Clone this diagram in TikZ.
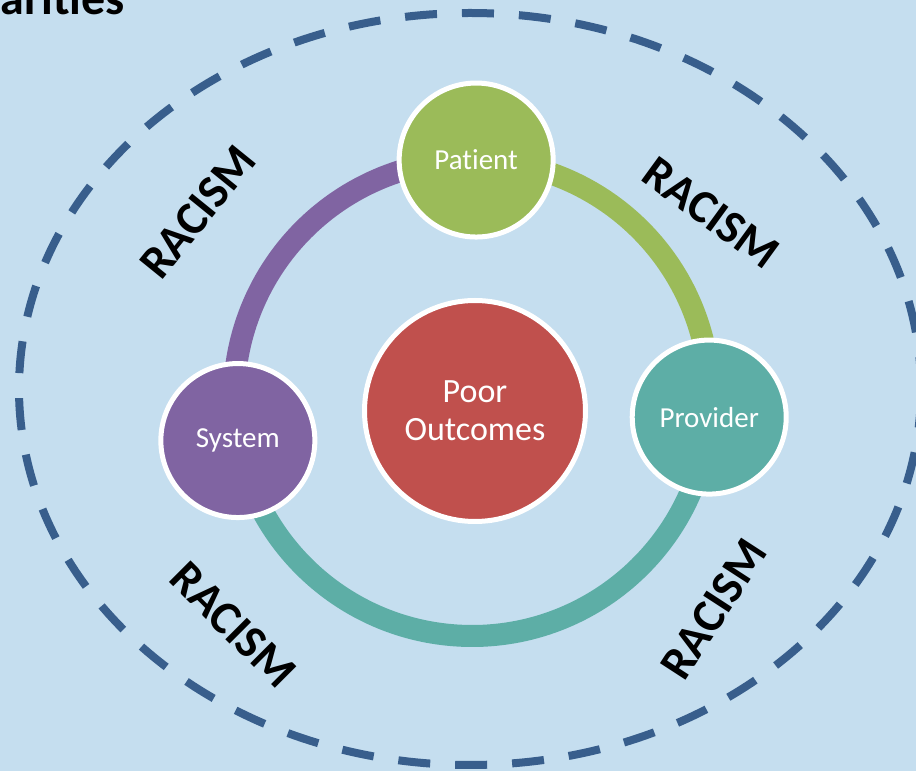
\documentclass[tikz,border=0pt]{standalone}
\usepackage{fontspec}
\setmainfont{Carlito}[Ligatures={NoCommon,NoContextual}]
\usetikzlibrary{positioning, calc, backgrounds}
\definecolor{panelblue}{RGB}{197,222,239}
\definecolor{dashblue}{RGB}{56,94,140}
\definecolor{systempurple}{RGB}{128,100,162}
\definecolor{patientgreen}{RGB}{155,187,89}
\definecolor{providerteal}{RGB}{93,174,166}
\definecolor{outcomered}{RGB}{192,80,77}
\tikzset{
  basecircle/.style={
    circle, draw=white, line width=5pt, text=white, align=center, inner sep=0pt
  },
  actorbox/.style={basecircle, minimum size=154pt, font=\fontsize{29}{35}\selectfont},
  hubbox/.style={basecircle, minimum size=221pt, fill=outcomered, font=\fontsize{34}{38}\selectfont},
  racismlabel/.style={font=\fontsize{47}{52}\selectfont\bfseries, text=black, inner sep=0pt},
  titlefrag/.style={font=\fontsize{48}{52}\selectfont\bfseries, text=black, inner sep=0pt},
  ringarc/.style={line width=22pt},
  dashring/.style={draw=dashblue, line width=8pt, dash pattern=on 32pt off 25pt}
}

\begin{document}
\begin{tikzpicture}[x=1pt, y=1pt]
  \useasboundingbox (0,0) rectangle (916,771);
  \clip (0,0) rectangle (916,771);
  \coordinate (c) at (472,373);

  % actors on the ring
  \node[actorbox, fill=patientgreen] (pat) at ($(c)+(89:238)$) {Patient};
  \node[actorbox, fill=providerteal] (prov) at ($(c)+(-4.6:238)$) {Provider};
  \node[actorbox, fill=systempurple] (sys) at ($(c)+(190.3:238)$) {System};
  \node[hubbox] (hub) at (475,360) {Poor\\Outcomes};

  \begin{scope}[on background layer]
    \clip (0,0) rectangle (916,771);
    \fill[panelblue] (0,0) rectangle (916,771);
    \draw[dashring] (470,382) ellipse [x radius=451, y radius=376];
    \draw[ringarc, systempurple] (sys.center) arc[start angle=190.3, end angle=89, radius=238];
    \draw[ringarc, patientgreen] (pat.center) arc[start angle=89, end angle=-4.6, radius=238];
    \draw[ringarc, providerteal] (prov.center) arc[start angle=-4.6, end angle=-169.7, radius=238];
  \end{scope}

  % title fragment and labels
  \node[titlefrag, anchor=base east] (title) at (125,756) {arities};
  \node[racismlabel, rotate=51] (rtl) at (198,559) {RACISM};
  \node[racismlabel, rotate=-36] (rtr) at (711,558) {RACISM};
  \node[racismlabel, rotate=-45] (rbl) at (233,146) {RACISM};
  \node[racismlabel, rotate=57] (rbr) at (714,162) {RACISM};
\end{tikzpicture}
\end{document}
